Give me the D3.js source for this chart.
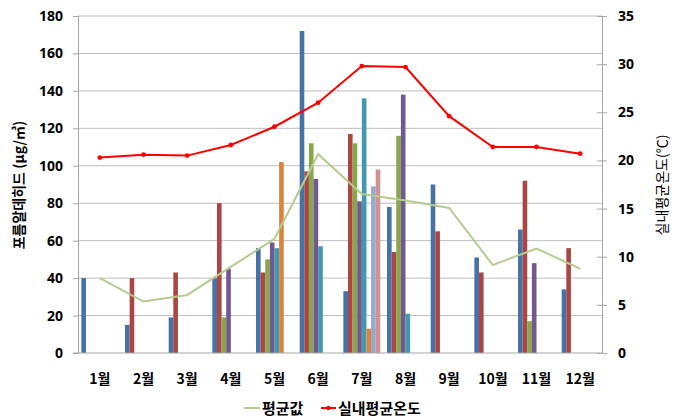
<!DOCTYPE html>
<html>
<head>
<meta charset="utf-8">
<script src="https://cdn.jsdelivr.net/npm/d3@7/dist/d3.min.js"></script>
<style>
  html, body { margin: 0; padding: 0; background: #fff; }
  svg text { font-family: "Noto Sans CJK KR", "Noto Sans", sans-serif; }
</style>
</head>
<body>
<svg id="chart" width="682" height="420"></svg>
<script>
// Monthly formaldehyde readings per site (μg/㎥); null = no measurement
const months = ["1월","2월","3월","4월","5월","6월","7월","8월","9월","10월","11월","12월"];
const site1 = [40, 15, 19, 40, 56, 172, 33, 78, 90, 51, 66, 34];
const site2 = [null, 40, 43, 80, 43, 97, 117, 54, 65, 43, 92, 56];
const site3 = [null, null, null, 19, 50, 112, 112, 116, null, null, 17, null];
const site4 = [null, null, null, 45, 59, 93, 81, 138, null, null, 48, null];
const site5 = [null, null, null, null, 56, 57, 136, 21, null, null, null, null];
const site6 = [null, null, null, null, 102, null, 13, null, null, null, null, null];
const site7 = [null, null, null, null, null, null, 89, null, null, null, null, null];
const site8 = [null, null, null, null, null, null, 98, null, null, null, null, null];
// Monthly mean of the readings (left axis)
const meanValues = [40, 27.5, 31, 46, 61, 106.2, 84.9, 81.4, 77.5, 47, 55.8, 45];
// Indoor average temperature (right axis, ℃)
const indoorTemp = [20.3, 20.6, 20.5, 21.6, 23.5, 26.0, 29.8, 29.7, 24.6, 21.4, 21.4, 20.7];
const leftTicks = [0, 20, 40, 60, 80, 100, 120, 140, 160, 180];
const rightTicks = [0, 5, 10, 15, 20, 25, 30, 35];

const seriesList = [site1, site2, site3, site4, site5, site6, site7, site8];
const seriesColors = ["#4572A7", "#AA4643", "#89A54E", "#71588F", "#4198AF", "#DB843D", "#93A9CF", "#D19392"];

const svg = d3.select("#chart");
const m = { left: 78, right: 602, top: 16, bottom: 353 };

const x = d3.scaleBand().domain(months).range([m.left, m.right]).padding(0);
const yL = d3.scaleLinear().domain([0, 180]).range([m.bottom, m.top]);
const yR = d3.scaleLinear().domain([0, 35]).range([m.bottom, m.top]);

// slot positions inside each month group
const gapRatio = 1.45;
const barW = x.bandwidth() / (seriesList.length + gapRatio);
const groupPad = barW * gapRatio / 2;

// gridlines
svg.append("g").selectAll("line").data(leftTicks.filter(d => d > 0)).join("line")
  .attr("x1", m.left).attr("x2", m.right)
  .attr("y1", d => yL(d)).attr("y2", d => yL(d))
  .attr("stroke", "#BEBEBE").attr("stroke-width", 1);

// bars
const barG = svg.append("g");
seriesList.forEach((vals, si) => {
  barG.append("g").selectAll("rect")
    .data(vals.map((v, i) => ({ v, m: months[i] })).filter(d => d.v != null))
    .join("rect")
    .attr("x", d => x(d.m) + groupPad + si * barW)
    .attr("width", barW)
    .attr("y", d => yL(d.v))
    .attr("height", d => yL(0) - yL(d.v))
    .attr("fill", seriesColors[si]);
});

// axes
const axisColor = "#A6A6A6";
const leftAxis = svg.append("g").attr("transform", `translate(${m.left},0)`)
  .call(d3.axisLeft(yL).tickValues(leftTicks).tickSize(5).tickPadding(10));
const rightAxis = svg.append("g").attr("transform", `translate(${m.right},0)`)
  .call(d3.axisRight(yR).tickValues(rightTicks).tickSize(5).tickPadding(11));
[leftAxis, rightAxis].forEach(a => {
  a.select(".domain").attr("stroke", axisColor);
  a.selectAll(".tick line").attr("stroke", axisColor);
  a.selectAll(".tick text").attr("fill", "#000")
    .style("font-size", "14px").style("font-weight", "bold")
    .style("font-family", "'Noto Sans', 'Noto Sans CJK KR', sans-serif");
});
rightAxis.selectAll(".tick line").attr("x1", -5);

const bottomAxis = svg.append("g").attr("transform", `translate(0,${m.bottom})`)
  .call(d3.axisBottom(x).tickSize(0).tickPadding(21));
bottomAxis.select(".domain").attr("stroke", axisColor).attr("d", `M${m.left - 5},0H${m.right}`);
bottomAxis.selectAll(".tick text").attr("fill", "#000")
  .style("font-size", "14px").style("font-weight", "bold");

// mean line
const lineMean = d3.line().x((d, i) => x(months[i]) + x.bandwidth() / 2).y(d => yL(d));
svg.append("path").datum(meanValues).attr("d", lineMean)
  .attr("fill", "none").attr("stroke", "#B5CB90").attr("stroke-width", 2);

// temperature line with markers
const lineTemp = d3.line().x((d, i) => x(months[i]) + x.bandwidth() / 2).y(d => yR(d));
svg.append("path").datum(indoorTemp).attr("d", lineTemp)
  .attr("fill", "none").attr("stroke", "#FF0000").attr("stroke-width", 2);
svg.append("g").selectAll("circle").data(indoorTemp).join("circle")
  .attr("cx", (d, i) => x(months[i]) + x.bandwidth() / 2)
  .attr("cy", d => yR(d)).attr("r", 2.4).attr("fill", "#FF0000");

// axis titles
svg.append("text").attr("transform", "translate(24,185) rotate(-90)")
  .attr("text-anchor", "middle").style("font-size", "14px").style("font-weight", "bold")
  .text("포름알데히드 (μg/㎥)");
svg.append("text").attr("transform", "translate(667,185) rotate(-90)")
  .attr("text-anchor", "middle").style("font-size", "14px")
  .text("실내평균온도(℃)");

// legend
const lg = svg.append("g").attr("transform", "translate(0,408)");
lg.append("line").attr("x1", 244).attr("x2", 260).attr("y1", 0).attr("y2", 0)
  .attr("stroke", "#B5CB90").attr("stroke-width", 2);
lg.append("text").attr("x", 262).attr("y", 6).style("font-size", "15px").style("font-weight", "bold").text("평균값");
lg.append("line").attr("x1", 321).attr("x2", 336).attr("y1", 0).attr("y2", 0)
  .attr("stroke", "#FF0000").attr("stroke-width", 2);
lg.append("circle").attr("cx", 328.5).attr("cy", 0).attr("r", 2.2).attr("fill", "#FF0000");
lg.append("text").attr("x", 338).attr("y", 6).style("font-size", "15px").style("font-weight", "bold").text("실내평균온도");
</script>
</body>
</html>
